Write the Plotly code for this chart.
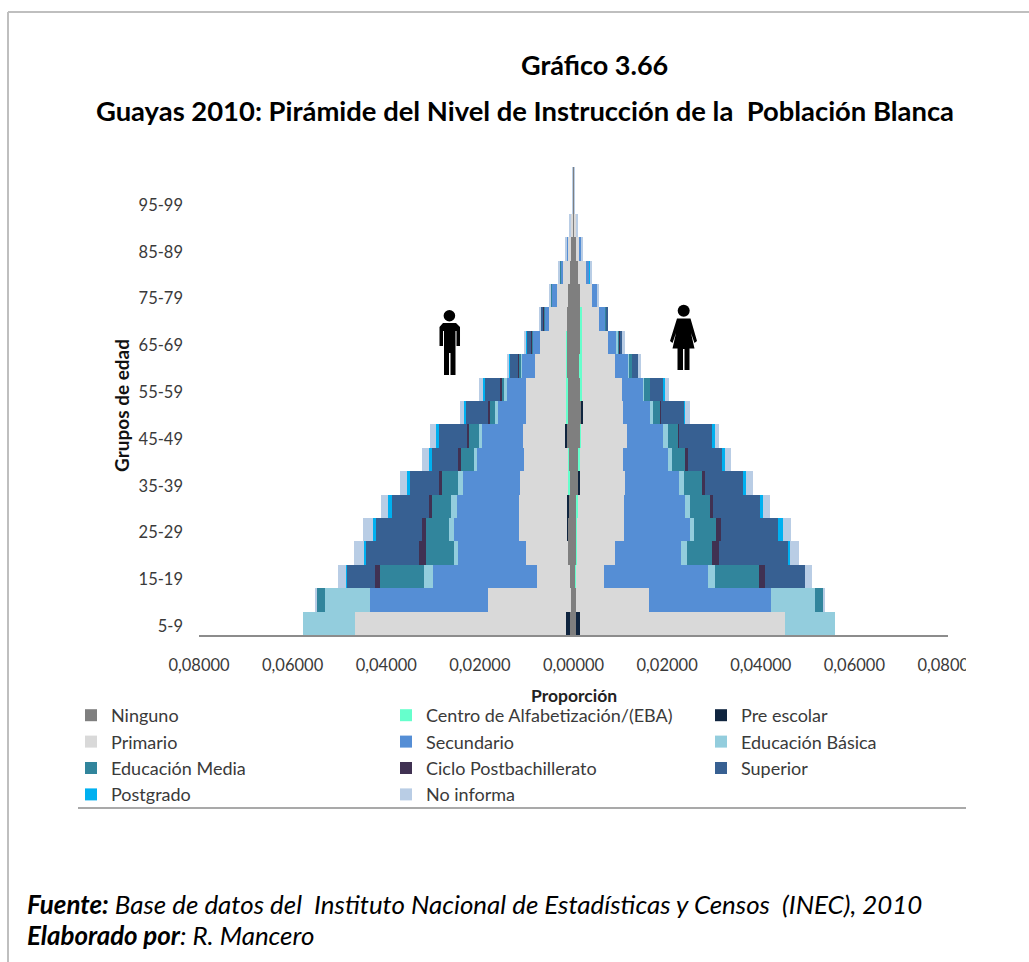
import plotly.graph_objects as go
import numpy as np

W, H = 1029, 962
FONT = "Lato"
TXT = "#3a3a3a"

age_groups = ["5-9","10-14","15-19","20-24","25-29","30-34","35-39","40-44","45-49","50-54",
              "55-59","60-64","65-69","70-74","75-79","80-84","85-89","90-94","95-99","100+"]
age_ticks = ["5-9","15-19","25-29","35-39","45-49","55-59","65-69","75-79","85-89","95-99"]

level_names = ["Ninguno","Centro de Alfabetización/(EBA)","Pre escolar","Primario","Secundario",
               "Educación Básica","Educación Media","Ciclo Postbachillerato","Superior","Postgrado","No informa"]
level_colors = ["#7F7F7F","#66FFCC","#10253F","#D9D9D9","#558ED5","#93CDDD","#31859C","#403152","#376092","#00B0F0","#B9CDE5"]

men_ninguno = [.00071,.00043,.00071,.00107,.00122,.00107,.00092,.00107,.00143,.00128,.00128,.00143,.00143,.00143,.00122,.00079,.00049,.00021,.00017,.00017]
men_centro = [0,0,0,0,0,0,.00030,.00021,0,.00036,.00036,.00021,.00021,0,0,0,0,0,0,0]
men_preescolar = [.00100,0,0,0,.00021,.00036,0,0,.00034,0,0,0,0,0,0,0,0,0,0,0]
men_primario = [.04488,.01789,.00699,.00913,.01032,.01032,.01026,.00925,.00906,.00855,.00855,.00669,.00547,.00376,.00235,.00141,.00058,.00049,.00004,.00004]
men_secundario = [0,.02507,.02222,.01438,.01383,.01319,.01218,.00998,.00876,.00590,.00406,.00284,.00158,.00107,.00107,.00058,.00049,0,0,0]
men_basica = [.01111,.00977,.00192,.00100,.00092,.00128,.00092,.00064,.00064,.00064,.00056,.00015,.00006,.00004,0,0,0,0,0,0]
men_media = [0,.00156,.00940,.00590,.00498,.00406,.00348,.00278,.00214,.00128,.00064,.00043,.00015,.00017,.00021,.00021,0,0,0,0]
men_ciclo = [0,0,.00122,.00158,.00094,.00056,.00058,.00064,.00028,.00036,.00021,.00006,.00021,.00006,0,0,0,0,0,0]
men_superior = [0,0,.00598,.01139,.00974,.00784,.00635,.00570,.00598,.00464,.00342,.00186,.00077,.00051,.00013,0,0,0,0,0]
men_postgrado = [0,0,.00006,.00021,.00058,.00092,.00056,.00056,.00064,.00028,.00021,.00006,.00043,.00004,0,0,0,0,0,0]
men_noinforma = [0,.00058,.00177,.00214,.00220,.00158,.00158,.00158,.00128,.00092,.00085,.00043,.00009,.00011,.00009,.00015,.00015,.00015,.00006,.00006]

women_ninguno = [.00043,.00043,.00032,.00064,.00064,.00068,.00096,.00103,.00139,.00154,.00154,.00118,.00139,.00139,.00139,.00103,.00043,.00021,.00017,.00017]
women_centro = [0,0,.00021,.00021,.00015,.00028,0,.00036,.00028,0,.00028,.00053,.00032,.00032,0,0,0,0,0,0]
women_preescolar = [.00096,0,0,0,0,0,.00043,0,0,.00049,0,0,0,0,0,0,0,0,0,0]
women_primario = [.04381,.01560,.00609,.00801,.01000,.00983,.00968,.00913,.00970,.00848,.00861,.00716,.00560,.00374,.00250,.00158,.00081,.00026,.00004,.00004]
women_secundario = [0,.02607,.02201,.01410,.01400,.01310,.01154,.00962,.00782,.00583,.00442,.00284,.00192,.00128,.00120,.00071,.00051,0,0,0]
women_basica = [.01058,.00940,.00150,.00128,.00103,.00090,.00100,.00098,.00094,.00064,.00021,.00021,.00034,0,0,0,0,0,0,0]
women_media = [0,.00192,.00940,.00534,.00470,.00445,.00378,.00278,.00220,.00156,.00135,.00047,.00015,.00028,0,0,0,0,0,0]
women_ciclo = [0,0,.00128,.00160,.00090,.00064,.00064,.00064,.00028,.00011,0,0,.00015,0,0,0,0,0,0,0]
women_superior = [0,0,.00855,.01485,.01229,.01004,.00812,.00720,.00692,.00496,.00286,.00145,.00056,.00036,0,0,0,0,0,0]
women_postgrado = [0,0,0,.00032,.00096,.00064,.00064,.00064,.00064,.00028,.00028,0,0,0,0,.00036,0,0,0,0]
women_noinforma = [0,.00011,.00150,.00192,.00182,.00150,.00150,.00128,.00098,.00094,.00092,.00064,.00064,0,.00021,.00013,.00013,.00049,.00006,.00006]

men = [men_ninguno,men_centro,men_preescolar,men_primario,men_secundario,men_basica,men_media,men_ciclo,men_superior,men_postgrado,men_noinforma]
women = [women_ninguno,women_centro,women_preescolar,women_primario,women_secundario,women_basica,women_media,women_ciclo,women_superior,women_postgrado,women_noinforma]

x_tick_values = [-0.08,-0.06,-0.04,-0.02,0,0.02,0.04,0.06,0.08]
x_tick_labels = ["0,08000","0,06000","0,04000","0,02000","0,00000","0,02000","0,04000","0,06000","0,08000"]

def px(x): return x / W
def py(y): return 1 - y / H
def poly(points):
    return "M" + " L".join(f"{px(a):.5f},{py(b):.5f}" for a, b in points) + " Z"

fig = go.Figure()
for name, color, m, w in zip(level_names, level_colors, men, women):
    fig.add_bar(y=age_groups, x=-np.array(m), orientation="h", name=name, legendgroup=name,
                marker=dict(color=color, line=dict(width=0)))
    fig.add_bar(y=age_groups, x=np.array(w), orientation="h", name=name, legendgroup=name, showlegend=False,
                marker=dict(color=color, line=dict(width=0)))

man_icon = [(443,323),(456,323),(460,327),(460,346),(456.5,346),(456.5,331),(455.5,331),(455.5,375),(450.5,375),
            (450.5,353),(449,353),(449,375),(444,375),(444,331),(443,331),(443,346),(439.5,346),(439.5,327)]
woman_icon = [(677,318.5),(690.5,318.5),(697,341),(694.5,343),(691,333),(694.5,348.5),(689.5,348.5),(689.5,370),
              (684.5,370),(684.5,349),(683,349),(683,370),(677.5,370),(677.5,348.5),(672.5,348.5),(676,333),(672.5,343),(670,341)]

def paper_shape(**kw):
    return dict(xref="paper", yref="paper", layer="above", **kw)

shapes = [
    paper_shape(type="line", x0=px(8), x1=px(8), y0=py(12), y1=py(962), line=dict(color="#BFBFBF", width=2)),
    paper_shape(type="line", x0=px(8), x1=px(1029), y0=py(12), y1=py(12), line=dict(color="#BFBFBF", width=2)),
    paper_shape(type="line", x0=px(78), x1=px(966), y0=py(808), y1=py(808), line=dict(color="#8C8C8C", width=1.5)),
    paper_shape(type="rect", x0=px(966), x1=px(1000), y0=py(645), y1=py(680), fillcolor="white", line=dict(width=0)),
    paper_shape(type="path", path=poly(man_icon), fillcolor="black", line=dict(width=0)),
    paper_shape(type="circle", x0=px(443.6), x1=px(455.2), y0=py(310), y1=py(321.5), fillcolor="black", line=dict(width=0)),
    paper_shape(type="path", path=poly(woman_icon), fillcolor="black", line=dict(width=0)),
    paper_shape(type="circle", x0=px(677.7), x1=px(689.7), y0=py(304.7), y1=py(316.7), fillcolor="black", line=dict(width=0)),
]

def note(text, x, y, xanchor="center", size=27, angle=0, color="black"):
    return dict(text=text, x=px(x), y=py(y), xref="paper", yref="paper", xanchor=xanchor, yanchor="middle",
                showarrow=False, textangle=angle, font=dict(family=FONT, size=size, color=color))

annotations = [
    note("<b>Gráfico 3.66</b>", 594, 64),
    note("<b><i>Fuente:</i></b><i> Base de datos del  Instituto Nacional de Estadísticas y Censos  (INEC), 2010</i>", 25, 904, "left", 25.9),
    note("<b><i>Elaborado por</i></b><i>: R. Mancero</i>", 25, 935, "left", 25.9),
    note("<b>Proporción</b>", 574, 695, "center", 17.5, color="#222222"),
    note("<b>Grupos de edad</b>", 121, 406, "center", 19, angle=-90, color="#111111"),
]

fig.update_layout(
    width=W, height=H, autosize=False,
    margin=dict(l=0, r=0, t=0, b=0, autoexpand=False),
    paper_bgcolor="white", plot_bgcolor="white",
    barmode="relative", bargap=0,
    font=dict(family=FONT, color=TXT),
    title=dict(text="<b>Guayas 2010: Pirámide del Nivel de Instrucción de la  Población Blanca</b>",
               x=px(525), y=py(111), xanchor="center", yanchor="middle",
               font=dict(family=FONT, size=27.4, color="black")),
    xaxis=dict(domain=[px(199), px(948)], range=[-0.08, 0.08], tickvals=x_tick_values, ticktext=x_tick_labels,
               showgrid=False, zeroline=False, showline=True, linecolor="#8C8C8C", linewidth=1.5, automargin=False,
               ticks="", tickangle=0, ticklabelstandoff=14, tickfont=dict(family=FONT, size=16.5, color=TXT), anchor="y"),
    yaxis=dict(domain=[py(635), py(167)], type="category", categoryorder="array", categoryarray=age_groups,
               range=[-0.5, 19.5], tickvals=age_ticks, ticktext=age_ticks, showgrid=False, zeroline=False, automargin=False,
               showline=False, ticks="", ticklabelstandoff=15, ticklabelshift=3, tickfont=dict(family=FONT, size=16.5, color=TXT)),
    legend=dict(orientation="h", xref="container", yref="container", x=px(71), y=py(697), xanchor="left", yanchor="top",
                entrywidth=270, entrywidthmode="pixels",
                traceorder="normal", font=dict(family=FONT, size=18, color=TXT), bgcolor="rgba(0,0,0,0)", itemclick=False),
    shapes=shapes, annotations=annotations,
)
fig.write_html("out.html", config=dict(displayModeBar=False), post_script="document.body.style.margin='0';")
